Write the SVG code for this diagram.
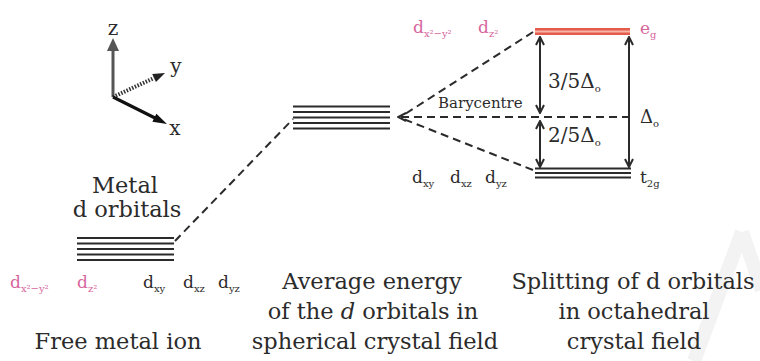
<svg xmlns="http://www.w3.org/2000/svg" width="760" height="361" viewBox="0 0 760 361">
<style>
text{font-family:"DejaVu Serif","Liberation Serif",serif;fill:#2b2b2b}
.big{font-size:22.5px}
.orb{font-size:17px}
.pink{fill:#d6669d}
.sub{font-size:10px}
.lvl{stroke:#2b2b2b;stroke-width:2.2}
.eg{stroke:#e45c4c;stroke-width:2.6}
.dash{stroke:#2b2b2b;stroke-width:2;stroke-dasharray:8 5;fill:none}
.arr{stroke:#2b2b2b;stroke-width:2;fill:none}
.wm{stroke:#f3f3f3;stroke-width:14;fill:none}
</style>
<defs>
<marker id="chev" viewBox="0 0 10 10" refX="9" refY="5" markerWidth="10" markerHeight="10" markerUnits="userSpaceOnUse" orient="auto-start-reverse">
<path d="M1,1 L9,5 L1,9" fill="none" stroke="#2b2b2b" stroke-width="2"/>
</marker>
</defs>
<rect width="760" height="361" fill="#ffffff"/>
<g id="watermark">
<path class="wm" d="M742,232 L694,361"/>
<path class="wm" d="M742,232 L762,290"/>
</g>
<g id="axes">
<line x1="113" y1="97" x2="113" y2="48" stroke="#555" stroke-width="3"/>
<polygon points="113,38 107,51 119,51" fill="#555"/>
<line x1="113" y1="97" x2="154" y2="78" stroke="#333" stroke-width="4" stroke-dasharray="1.5 1.5"/>
<polygon points="165,73 152.2,73.9 156,82.1" fill="#222"/>
<line x1="113" y1="97" x2="155" y2="118" stroke="#111" stroke-width="3.2"/>
<polygon points="167,124 152.4,121.8 156.4,113.8" fill="#111"/>
<text x="113" y="35" text-anchor="middle" style="font-size:20px">z</text>
<text x="176" y="73" text-anchor="middle" style="font-size:20px">y</text>
<text x="175" y="135" text-anchor="middle" style="font-size:20px">x</text>
</g>
<g id="free-ion">
<text class="big" x="125" y="193" text-anchor="middle">Metal</text>
<text class="big" x="127" y="217" text-anchor="middle">d orbitals</text>
<line class="lvl" x1="77" y1="238" x2="174" y2="238"/>
<line class="lvl" x1="77" y1="243.5" x2="174" y2="243.5"/>
<line class="lvl" x1="77" y1="249" x2="174" y2="249"/>
<line class="lvl" x1="77" y1="254.5" x2="174" y2="254.5"/>
<line class="lvl" x1="77" y1="260" x2="174" y2="260"/>
<text class="orb pink" x="10" y="288">d<tspan class="sub" dy="4">x²−y²</tspan></text>
<text class="orb pink" x="77" y="288">d<tspan class="sub" dy="4">z²</tspan></text>
<text class="orb" x="143" y="288">d<tspan class="sub" dy="4">xy</tspan></text>
<text class="orb" x="183" y="288">d<tspan class="sub" dy="4">xz</tspan></text>
<text class="orb" x="218" y="288">d<tspan class="sub" dy="4">yz</tspan></text>
<text class="big" x="118" y="349" text-anchor="middle">Free metal ion</text>
</g>
<g id="spherical">
<line class="lvl" x1="293" y1="106.5" x2="390" y2="106.5"/>
<line class="lvl" x1="293" y1="112" x2="390" y2="112"/>
<line class="lvl" x1="293" y1="117.5" x2="390" y2="117.5"/>
<line class="lvl" x1="293" y1="123" x2="390" y2="123"/>
<line class="lvl" x1="293" y1="128.5" x2="390" y2="128.5"/>
<text class="big" x="372" y="289" text-anchor="middle">Average energy</text>
<text class="big" x="373" y="319" text-anchor="middle">of the <tspan font-style="italic">d</tspan> orbitals in</text>
<text class="big" x="375" y="349" text-anchor="middle">spherical crystal field</text>
</g>
<g id="eg">
<rect x="535" y="28" width="95" height="7" fill="#f8b4a6"/>
<line class="eg" x1="535" y1="29.3" x2="630" y2="29.3"/>
<line class="eg" x1="535" y1="33.7" x2="630" y2="33.7"/>
<text class="orb pink" x="413" y="33">d<tspan class="sub" dy="4">x²−y²</tspan></text>
<text class="orb pink" x="478" y="33">d<tspan class="sub" dy="4">z²</tspan></text>
<text class="orb pink" x="640" y="34">e<tspan class="sub" dy="4">g</tspan></text>
</g>
<g id="t2g">
<line class="lvl" x1="535" y1="168.5" x2="631" y2="168.5"/>
<line class="lvl" x1="535" y1="173" x2="631" y2="173"/>
<line class="lvl" x1="535" y1="177.5" x2="631" y2="177.5"/>
<text class="orb" x="412" y="183">d<tspan class="sub" dy="4">xy</tspan></text>
<text class="orb" x="450" y="183">d<tspan class="sub" dy="4">xz</tspan></text>
<text class="orb" x="485" y="183">d<tspan class="sub" dy="4">yz</tspan></text>
<text class="orb" x="640" y="183">t<tspan class="sub" dy="4">2g</tspan></text>
</g>
<g id="barycentre">
<text x="438" y="108" style="font-size:15px">Barycentre</text>
<text x="548" y="88" style="font-size:20px">3/5Δ<tspan class="sub" dy="4">o</tspan></text>
<text x="548" y="142" style="font-size:20px">2/5Δ<tspan class="sub" dy="4">o</tspan></text>
<text x="640" y="123" style="font-size:18px">Δ<tspan class="sub" dy="4">o</tspan></text>
<text class="big" x="633" y="289" text-anchor="middle">Splitting of d orbitals</text>
<text class="big" x="634" y="319" text-anchor="middle">in octahedral</text>
<text class="big" x="634" y="349" text-anchor="middle">crystal field</text>
</g>
<g id="connectors">
<line class="dash" x1="175" y1="241" x2="293" y2="119"/>
<line class="dash" x1="533" y1="32" x2="402" y2="116"/>
<line class="dash" x1="533" y1="170" x2="402" y2="118.5"/>
<line class="dash" x1="630" y1="117" x2="398" y2="117" marker-end="url(#chev)"/>
<line class="arr" x1="540" y1="37" x2="540" y2="113" marker-start="url(#chev)" marker-end="url(#chev)"/>
<line class="arr" x1="540" y1="121" x2="540" y2="167" marker-start="url(#chev)" marker-end="url(#chev)"/>
<line class="arr" x1="629" y1="37" x2="629" y2="167" marker-start="url(#chev)" marker-end="url(#chev)"/>
</g>
</svg>
